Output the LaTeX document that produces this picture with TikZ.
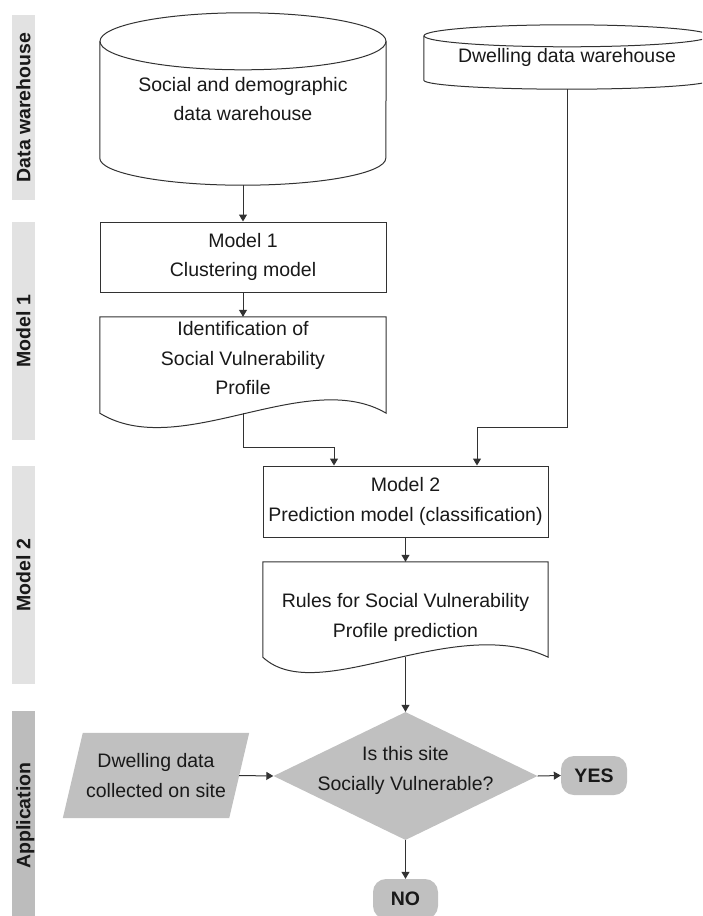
\documentclass[tikz,border=0pt]{standalone}
\usepackage{fontspec}
\setmainfont{Liberation Sans}
\usetikzlibrary{calc,arrows.meta,shapes.geometric,backgrounds}
\definecolor{linec}{RGB}{50,50,50}
\definecolor{shapegray}{RGB}{192,192,192}
\definecolor{barlight}{RGB}{226,226,226}
\definecolor{bardark}{RGB}{188,188,188}
\begin{document}
\begin{tikzpicture}[x=1pt,y=-1pt,
  every node/.style={font=\fontsize{19.5}{29.5}\selectfont, align=center, inner sep=0pt, text=black!90},
  outline/.style={draw=linec, line width=1pt},
  arrow/.style={draw=linec, line width=1pt, -{Triangle[length=7pt,width=8pt]}},
  procbox/.style={draw=linec, line width=1pt, rectangle, fill=white},
  sidebar/.style={rotate=90, minimum height=23, font=\bfseries\fontsize{19.5}{24}\selectfont, text height=14, text depth=0},
  endbox/.style={fill=shapegray, rounded corners=13pt, font=\bfseries\fontsize{19.5}{24}\selectfont}
]
\clip (0,0) rectangle (702,916);
\begin{scope}[on background layer]
  \fill[white] (0,0) rectangle (702,916);
\end{scope}

% side bars
\node[sidebar, fill=barlight, minimum width=185] (b1) at (23.5,107.5) {Data warehouse};
\node[sidebar, fill=barlight, minimum width=218] (b2) at (23.5,331) {Model 1};
\node[sidebar, fill=barlight, minimum width=218] (b3) at (23.5,575) {Model 2};
\node[sidebar, fill=bardark, minimum width=209] (b4) at (23.5,815.5) {Application};

% cylinder 1
\node[minimum width=286, minimum height=172] (cyl1) at (243,99) {Social and demographic\\data warehouse};
\draw[outline] ($(cyl1.north)+(0,28.5)$) ellipse [x radius=143, y radius=28.5];
\draw[outline] ($(cyl1.north west)+(0,28.5)$) -- ($(cyl1.south west)+(0,-27)$)
  arc[start angle=180, end angle=0, x radius=143, y radius=27] -- ($(cyl1.north east)+(0,28.5)$);

% cylinder 2
\node[minimum width=286, minimum height=64] (cyl2) at (567,57) {Dwelling data warehouse};
\draw[outline] ($(cyl2.north)+(0,11)$) ellipse [x radius=143, y radius=11];
\draw[outline] ($(cyl2.north west)+(0,11)$) -- ($(cyl2.south west)+(0,-9)$)
  arc[start angle=180, end angle=0, x radius=143, y radius=9] -- ($(cyl2.north east)+(0,11)$);

% model 1
\node[procbox, minimum width=286, minimum height=70] (m1) at (243,257) {Model 1\\Clustering model};

% document 1
\node[minimum width=286, minimum height=96,
  label={[yshift=6.5pt]center:Identification of\\Social Vulnerability\\Profile}] (doc1) at (243,365) {};
\draw[outline] (doc1.north west) -- (doc1.north east) -- (doc1.south east)
  .. controls ($(doc1.south east)+(-80,-47)$) and ($(doc1.south west)+(80,49)$) .. (doc1.south west) -- cycle;

% model 2
\node[procbox, minimum width=285, minimum height=71] (m2) at (405.5,501.5) {Model 2\\Prediction model (classification)};

% document 2
\node[minimum width=285, minimum height=95,
  label={[yshift=-8pt]center:Rules for Social Vulnerability\\Profile prediction}] (doc2) at (405.5,609.5) {};
\draw[outline] (doc2.north west) -- (doc2.north east) -- (doc2.south east)
  .. controls ($(doc2.south east)+(-95,-45)$) and ($(doc2.south west)+(55,51)$) .. (doc2.south west) -- cycle;

% decision
\node[diamond, fill=shapegray, minimum width=264, minimum height=128,
  label={[yshift=5.5pt]center:Is this site\\Socially Vulnerable?}] (dec) at (405.5,776) {};

% input parallelogram
\node[minimum width=166, minimum height=85] (para) at (156,775.5) {Dwelling data\\collected on site};
\begin{scope}[on background layer]
  \fill[shapegray] ($(para.south west)+(-10,0)$) -- ($(para.north west)+(10,0)$)
    -- ($(para.north east)+(10,0)$) -- ($(para.south east)+(-10,0)$) -- cycle;
\end{scope}

% terminals
\node[endbox, minimum width=66, minimum height=39] (yes) at (594,775.5) {YES};
\node[endbox, minimum width=65, minimum height=40] (no) at (405.5,899) {NO};

% connectors
\draw[arrow] (cyl1.south) -- (m1.north);
\draw[arrow] (m1.south) -- (doc1.north);
\draw[arrow] (doc1.south) -- ++(0,34) -| ($(m2.north west)!0.25!(m2.north east)$);
\draw[arrow] (cyl2.south) -- ++(0,338) -| ($(m2.north west)!0.75!(m2.north east)$);
\draw[arrow] (m2.south) -- (doc2.north);
\draw[arrow] (doc2.south) -- (dec.north);
\draw[arrow] (para.east) -- (dec.west);
\draw[arrow] (dec.east) -- (yes.west);
\draw[arrow] (dec.south) -- (no.north);
\end{tikzpicture}
\end{document}
